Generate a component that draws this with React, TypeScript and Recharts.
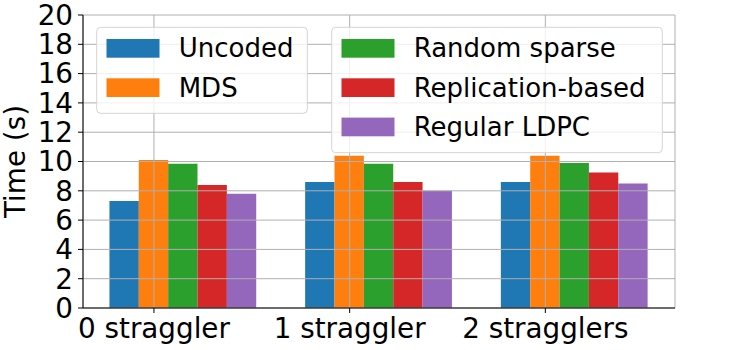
import React from 'react';
import { BarChart, Bar, XAxis, YAxis, Legend, Label, CartesianGrid } from 'recharts';

// ---- data ----
const categories = ['0 straggler', '1 straggler', '2 stragglers'];
const seriesNames = ['Uncoded', 'MDS', 'Random sparse', 'Replication-based', 'Regular LDPC'];
const uncoded = [7.3, 8.6, 8.6];
const mds = [10.1, 10.4, 10.4];
const randomSparse = [9.85, 9.85, 9.9];
const replicationBased = [8.4, 8.6, 9.25];
const regularLdpc = [7.8, 8.0, 8.5];
const yTicks = [0, 2, 4, 6, 8, 10, 12, 14, 16, 18, 20];
const categoryTicks = [0, 1, 2];

// ---- style / layout ----
const colors = ['#1f77b4', '#ff7f0e', '#2ca02c', '#d62728', '#9467bd'];
const W = 750;
const H = 350;
const PLOT_LEFT = 83;
const PLOT_RIGHT = 675;
const PLOT_TOP = 15;
const PLOT_BOTTOM = 308;
const X_DOMAIN: [number, number] = [-0.3625, 2.6625];
const Y_DOMAIN: [number, number] = [0, 20];
const BAR_W_UNITS = 0.15; // width of one bar in category units
const GROUP_SHIFT = 0.15; // bars sit at x-w .. x+3w, so group centre is x+w
const barSize = ((PLOT_RIGHT - PLOT_LEFT) / (X_DOMAIN[1] - X_DOMAIN[0])) * BAR_W_UNITS;
const FONT = "'DejaVu Sans', sans-serif";
const TICK_FS = 27.8;
const LEGEND_FS = 26;
const GRID = '#b0b0b0';

const seriesValues = [uncoded, mds, randomSparse, replicationBased, regularLdpc];
const data = categories.map((c, i) => {
  const row: Record<string, number | string> = { pos: i + GROUP_SHIFT, label: c };
  seriesNames.forEach((n, k) => {
    row[n] = seriesValues[k][i];
  });
  return row;
});

const legendBoxes = [
  { x: 96.7, y: 27.3, w: 210.6, h: 86, from: 0, to: 2 },
  { x: 331.7, y: 27.3, w: 330.6, h: 125.4, from: 2, to: 5 },
];

const renderLegend = (props: any) => {
  const payload = [...(props.payload || [])].sort(
    (a: any, b: any) => seriesNames.indexOf(a.value) - seriesNames.indexOf(b.value)
  );
  return (
    <svg
      width={W}
      height={H}
      style={{ position: 'absolute', left: 0, top: 0, pointerEvents: 'none', overflow: 'visible' }}
    >
      {legendBoxes.map((b, bi) => (
        <g key={bi}>
          <rect
            x={b.x}
            y={b.y}
            width={b.w}
            height={b.h}
            rx={4}
            ry={4}
            fill="#ffffff"
            fillOpacity={0.8}
            stroke="#d4d4d4"
            strokeWidth={1}
          />
          {payload.slice(b.from, b.to).map((it: any, k: number) => (
            <g key={k}>
              <rect x={b.x + 9.8} y={b.y + 11.7 + k * 39.3} width={53} height={18.7} fill={it.color} />
              <text
                x={b.x + 82}
                y={b.y + 30 + k * 39.3}
                fontFamily={FONT}
                fontSize={LEGEND_FS}
                fill="#000"
              >
                {it.value}
              </text>
            </g>
          ))}
        </g>
      ))}
    </svg>
  );
};

const YLabel = (props: any) => {
  const vb = props.viewBox || { x: 0, y: PLOT_TOP, width: PLOT_LEFT, height: PLOT_BOTTOM - PLOT_TOP };
  const cx = vb.x + 15.5;
  const cy = vb.y + vb.height / 2;
  return (
    <text
      x={cx}
      y={cy}
      transform={`rotate(-90, ${cx}, ${cy})`}
      textAnchor="middle"
      dominantBaseline="central"
      fontFamily={FONT}
      fontSize={TICK_FS}
      fill="#000"
    >
      Time (s)
    </text>
  );
};

const layer: React.CSSProperties = { position: 'absolute', left: 0, top: 0, width: W, height: H };

export default function App() {
  const tickStyle = { fontFamily: FONT, fontSize: TICK_FS, fill: '#000' };
  return (
    <div style={{ ...layer, background: '#fff' }}>
      {/* bottom layer: the bars */}
      <div style={layer}>
        <BarChart
          width={W}
          height={H}
          data={data}
          margin={{ top: PLOT_TOP, right: W - PLOT_RIGHT, bottom: H - PLOT_BOTTOM, left: PLOT_LEFT }}
          barGap={0}
          barSize={barSize}
        >
          <XAxis dataKey="pos" type="number" domain={X_DOMAIN} ticks={categoryTicks} hide allowDataOverflow />
          <YAxis type="number" domain={Y_DOMAIN} ticks={yTicks} hide />
          {seriesNames.map((n, k) => (
            <Bar key={n} dataKey={n} name={n} fill={colors[k]} isAnimationActive={false} />
          ))}
        </BarChart>
      </div>
      {/* top layer: grid drawn over the bars, axes, legend */}
      <div style={layer}>
        <BarChart
          width={W}
          height={H}
          data={data}
          margin={{ top: PLOT_TOP, right: W - PLOT_RIGHT, bottom: 0, left: 0 }}
          barGap={0}
          barSize={barSize}
        >
          <CartesianGrid stroke={GRID} strokeWidth={1} />
          <XAxis
            dataKey="pos"
            type="number"
            domain={X_DOMAIN}
            ticks={categoryTicks}
            tickFormatter={(v: number) => categories[Math.round(v)] ?? ''}
            height={H - PLOT_BOTTOM}
            tick={tickStyle}
            tickSize={5}
            tickMargin={5}
            tickLine={{ stroke: '#000', strokeWidth: 1 }}
            axisLine={{ stroke: '#000', strokeWidth: 1 }}
            allowDataOverflow
            interval={0}
          />
          <XAxis
            xAxisId="top"
            dataKey="pos"
            type="number"
            orientation="top"
            domain={X_DOMAIN}
            height={0}
            tick={false}
            tickLine={false}
            axisLine={{ stroke: '#000', strokeWidth: 1 }}
            allowDataOverflow
          />
          <YAxis
            type="number"
            domain={Y_DOMAIN}
            ticks={yTicks}
            width={PLOT_LEFT}
            tick={tickStyle}
            tickSize={5}
            tickMargin={5}
            tickLine={{ stroke: '#000', strokeWidth: 1 }}
            axisLine={{ stroke: '#000', strokeWidth: 1 }}
            interval={0}
          >
            <Label content={<YLabel />} />
          </YAxis>
          <YAxis
            yAxisId="right"
            orientation="right"
            domain={Y_DOMAIN}
            width={0}
            tick={false}
            tickLine={false}
            axisLine={{ stroke: '#000', strokeWidth: 1 }}
          />
          {seriesNames.map((n, k) => (
            <Bar
              key={n}
              dataKey={n}
              name={n}
              fill={colors[k]}
              fillOpacity={0}
              isAnimationActive={false}
            />
          ))}
          <Legend
            layout="vertical"
            verticalAlign="middle"
            align="center"
            wrapperStyle={{ left: 0, top: 0, width: 0, height: 0, margin: 0, padding: 0 }}
            content={renderLegend}
          />
        </BarChart>
      </div>
    </div>
  );
}
